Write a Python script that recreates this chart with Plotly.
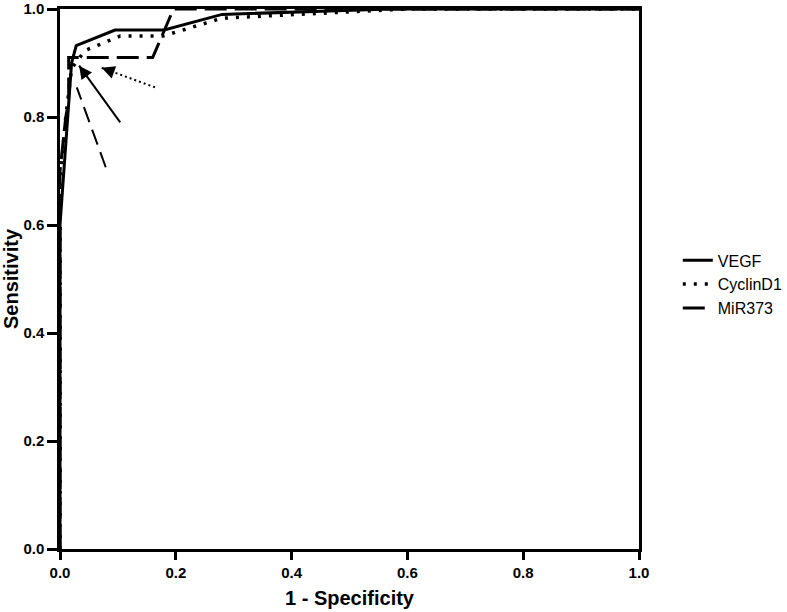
import plotly.graph_objects as go

# ROC curve data (1 - specificity, sensitivity)
vegf_x = [0.0, 0.0, 0.02, 0.028, 0.095, 0.18, 0.28, 0.57, 1.0]
vegf_y = [0.0, 0.60, 0.90, 0.932, 0.961, 0.961, 0.99, 1.0, 1.0]

cyclin_x = [0.0, 0.0, 0.01, 0.02, 0.043, 0.104, 0.178, 0.28, 0.6, 1.0]
cyclin_y = [0.0, 0.68, 0.80, 0.89, 0.923, 0.95, 0.95, 0.983, 1.0, 1.0]

mir_x = [0.0, 0.0, 0.01, 0.015, 0.015, 0.16, 0.196, 1.0]
mir_y = [0.0, 0.70, 0.80, 0.83, 0.91, 0.91, 1.0, 1.0]

series_names = ["VEGF", "CyclinD1", "MiR373"]

# arrows pointing at cut-off points: tail (x, y) -> head (x, y)
arrow_tail_x = [0.104, 0.164, 0.079]
arrow_tail_y = [0.79, 0.855, 0.707]
arrow_head_x = [0.033, 0.072, 0.029]
arrow_head_y = [0.895, 0.891, 0.855]
arrow_dash = ["solid", "2px,3px", "16px,8px"]

tick_vals = [0.0, 0.2, 0.4, 0.6, 0.8, 1.0]

fig = go.Figure()
fig.add_trace(go.Scatter(x=vegf_x, y=vegf_y, mode="lines", name=series_names[0],
                         line=dict(color="black", width=3)))
fig.add_trace(go.Scatter(x=cyclin_x, y=cyclin_y, mode="lines", name=series_names[1],
                         line=dict(color="black", width=3.5, dash="3px,8px")))
fig.add_trace(go.Scatter(x=mir_x, y=mir_y, mode="lines", name=series_names[2],
                         line=dict(color="black", width=3, dash="22px,8px")))

# arrow shafts
for tx, ty, hx, hy, d in zip(arrow_tail_x, arrow_tail_y, arrow_head_x, arrow_head_y, arrow_dash):
    fig.add_trace(go.Scatter(x=[tx, hx], y=[ty, hy], mode="lines", showlegend=False,
                             hoverinfo="skip",
                             line=dict(color="black", width=2, dash=d)))

# arrowheads (solid and dotted arrows)
for i in range(2):
    hx, hy = arrow_head_x[i], arrow_head_y[i]
    tx, ty = arrow_tail_x[i], arrow_tail_y[i]
    fig.add_annotation(x=hx, y=hy, ax=hx + (tx - hx) * 0.12, ay=hy + (ty - hy) * 0.12,
                       xref="x", yref="y", axref="x", ayref="y", text="",
                       showarrow=True, arrowhead=2, arrowsize=1.3, arrowwidth=2,
                       arrowcolor="black")

font_family = "Liberation Sans, Arial, sans-serif"
fig.update_layout(
    width=787, height=612,
    margin=dict(l=60, r=148, t=9, b=63, autoexpand=False),
    paper_bgcolor="white", plot_bgcolor="white",
    font=dict(family=font_family, color="black"),
    showlegend=True,
    legend=dict(x=1.067, xanchor="left", y=0.49, yanchor="middle",
                font=dict(size=16, family=font_family, color="black"),
                bgcolor="rgba(0,0,0,0)", tracegroupgap=0, itemwidth=30,
                borderwidth=0),
    xaxis=dict(range=[0, 1], tickvals=tick_vals, tickformat=".1f", automargin=False,
               showgrid=False, zeroline=False, showline=True, linecolor="black",
               linewidth=2.5, mirror=True, ticks="outside", ticklen=8, tickwidth=2.5,
               tickcolor="black", ticklabeloverflow="allow",
               tickfont=dict(size=15, family=font_family, weight="bold"),
               title=dict(text="<b>1 - Specificity</b>", font=dict(size=20), standoff=12)),
    yaxis=dict(range=[0, 1], tickvals=tick_vals, tickformat=".1f", automargin=False,
               showgrid=False, zeroline=False, showline=True, linecolor="black",
               linewidth=2.5, mirror=True, ticks="outside", ticklen=10, tickwidth=2.5,
               tickcolor="black", ticklabeloverflow="allow",
               tickfont=dict(size=15, family=font_family, weight="bold"),
               title=dict(text="<b>Sensitivity</b>", font=dict(size=20), standoff=6)),
)

fig.write_html("out.html", config={"displayModeBar": False},
               post_script="document.body.style.margin='0';")
